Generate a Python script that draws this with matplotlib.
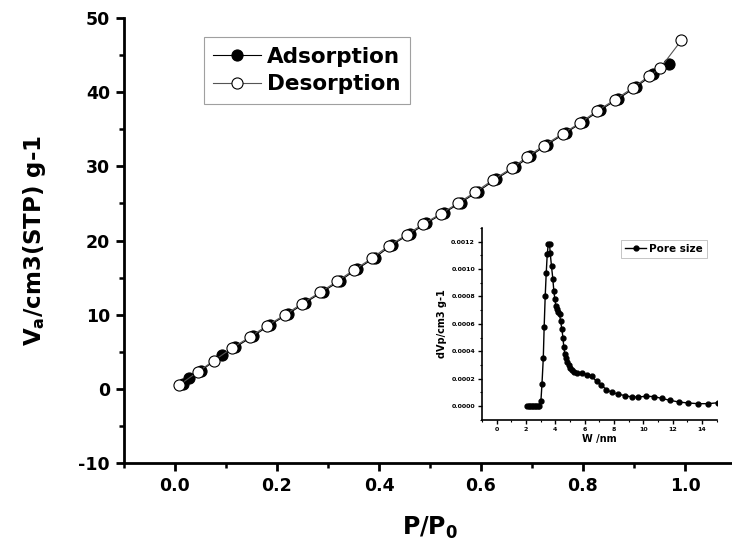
import matplotlib
matplotlib.use("Agg")
import matplotlib.pyplot as plt
from matplotlib.ticker import MultipleLocator, FormatStrFormatter

plt.rcParams['font.family'] = ['DejaVu Sans']
plt.rcParams['font.weight'] = 'bold'
plt.rcParams['axes.unicode_minus'] = False
plt.rcParams['mathtext.fontset'] = 'custom'
plt.rcParams['mathtext.rm'] = 'DejaVu Sans:bold'

# isotherm
ads_p = [0.015, 0.028, 0.050, 0.092, 0.118, 0.153, 0.186, 0.222, 0.255, 0.290,
         0.324, 0.356, 0.392, 0.425, 0.461, 0.492, 0.527, 0.560, 0.594, 0.630,
         0.667, 0.697, 0.729, 0.766, 0.800, 0.834, 0.869, 0.904, 0.937, 0.968]
ads_v = [0.7, 1.4, 2.4, 4.5, 5.6, 7.1, 8.6, 10.1, 11.6, 13.1,
         14.6, 16.1, 17.7, 19.4, 20.9, 22.3, 23.7, 25.1, 26.6, 28.3,
         29.9, 31.4, 32.9, 34.5, 36.0, 37.6, 39.1, 40.7, 42.4, 43.8]
des_p = [0.008, 0.045, 0.076, 0.112, 0.147, 0.180, 0.216, 0.249, 0.284, 0.318,
         0.350, 0.386, 0.419, 0.455, 0.486, 0.521, 0.554, 0.588, 0.624, 0.661,
         0.691, 0.723, 0.760, 0.795, 0.828, 0.863, 0.898, 0.930, 0.951, 0.993]
des_v = [0.5, 2.3, 3.8, 5.5, 7.0, 8.5, 10.0, 11.5, 13.0, 14.5,
         16.0, 17.6, 19.3, 20.8, 22.2, 23.6, 25.0, 26.5, 28.2, 29.8,
         31.3, 32.8, 34.4, 35.9, 37.5, 39.0, 40.6, 42.2, 43.2, 47.0]

# pore size distribution (inset)
pore_w = [2.1, 2.2, 2.3, 2.4, 2.5, 2.6, 2.7, 2.8, 2.9, 3.02, 3.09, 3.18, 3.24,
          3.31, 3.38, 3.45, 3.52, 3.61, 3.65, 3.74, 3.83, 3.90, 3.97, 4.04,
          4.13, 4.20, 4.29, 4.36, 4.45, 4.52, 4.58, 4.65, 4.72, 4.81, 4.90,
          4.99, 5.13, 5.26, 5.49, 5.79, 6.13, 6.47, 6.81, 7.15, 7.49, 7.85,
          8.30, 8.76, 9.21, 9.67, 10.17, 10.71, 11.25, 11.80, 12.43, 13.07,
          13.73, 14.43, 15.1]
pore_dv = [0, 0, 0, 0, 0, 0, 0, 0, 0, 0.00004, 0.00016, 0.00035, 0.00058,
           0.00080, 0.00097, 0.00111, 0.00118, 0.00118, 0.00112, 0.00102,
           0.00093, 0.00084, 0.00078, 0.00073, 0.00071, 0.00069, 0.00067,
           0.00062, 0.00056, 0.00050, 0.00043, 0.00038, 0.00035, 0.00032,
           0.00030, 0.00028, 0.00026, 0.00025, 0.00024, 0.00024, 0.00023,
           0.00022, 0.00018, 0.00015, 0.00012, 0.00010, 0.000086, 0.000076,
           0.000066, 0.000066, 0.000071, 0.000069, 0.000056, 0.000042,
           0.000029, 0.000022, 0.000017, 0.000017, 0.000024]

fig = plt.figure(figsize=(7.32, 5.56), dpi=100)
ax = fig.add_axes([124 / 732, 93 / 556, 612 / 732, 445 / 556])

ax.plot(ads_p, ads_v, '-o', color='black', lw=0.8, ms=8, mfc='black',
        mec='black', mew=0.8, label='Adsorption')
ax.plot(des_p, des_v, '-o', color='#555555', lw=0.8, ms=8, mfc='white',
        mec='black', mew=0.8, label='Desorption')

ax.set_xlim(-0.1, 1.1)
ax.set_ylim(-10, 50)
ax.xaxis.set_major_locator(MultipleLocator(0.2))
ax.xaxis.set_minor_locator(MultipleLocator(0.1))
ax.yaxis.set_major_locator(MultipleLocator(10))
ax.yaxis.set_minor_locator(MultipleLocator(5))
ax.spines['top'].set_visible(False)
ax.spines['right'].set_visible(False)
for s in ['left', 'bottom']:
    ax.spines[s].set_linewidth(2.0)
ax.tick_params(which='major', direction='out', length=6, width=2.0,
               labelsize=12.5, pad=4)
ax.tick_params(which='minor', direction='out', length=3.5, width=1.8)
ax.set_xlabel('P/P$_\\mathrm{0}$', fontsize=17, fontweight='bold', labelpad=14)
ax.set_ylabel('V$_\\mathrm{a}$/cm3(STP) g-1', fontsize=16.5, fontweight='bold',
              labelpad=22)

leg = ax.legend(loc='upper left', bbox_to_anchor=(0.13, 0.957), fontsize=15.5,
                frameon=True, fancybox=False, borderpad=0.45, handlelength=2.2,
                handletextpad=0.3, labelspacing=0.35, borderaxespad=0)
leg.get_frame().set_edgecolor('#888888')
leg.get_frame().set_linewidth(0.8)

# inset
ins = fig.add_axes([482 / 732, (556 - 419.7) / 556, 234.6 / 732, 191.7 / 556])
ins.plot(pore_w, pore_dv, '-o', color='black', lw=1.0, ms=3.5, label='Pore size')
ins.set_xlim(-1, 15)
ins.set_ylim(-0.0001, 0.0013)
ins.xaxis.set_major_locator(MultipleLocator(2))
ins.xaxis.set_minor_locator(MultipleLocator(1))
ins.yaxis.set_major_locator(MultipleLocator(0.0002))
ins.yaxis.set_minor_locator(MultipleLocator(0.0001))
ins.yaxis.set_major_formatter(FormatStrFormatter('%.4f'))
ins.spines['top'].set_visible(False)
ins.spines['right'].set_visible(False)
for s in ['left', 'bottom']:
    ins.spines[s].set_linewidth(1.2)
ins.tick_params(which='major', direction='out', length=3, width=1.0,
                labelsize=4.5, pad=2)
ins.tick_params(which='minor', direction='out', length=1.5, width=0.8)
ins.set_xlabel('W /nm', fontsize=7, fontweight='bold', labelpad=2)
ins.set_ylabel('dVp/cm3 g-1', fontsize=7, fontweight='bold', labelpad=3)
il = ins.legend(loc='upper right', bbox_to_anchor=(0.96, 0.94), fontsize=7.5,
                frameon=True, fancybox=False, borderpad=0.4, handlelength=2.0,
                handletextpad=0.3, borderaxespad=0)
il.get_frame().set_edgecolor('#aaaaaa')
il.get_frame().set_linewidth(0.6)

fig.savefig('out.png', dpi=100)
